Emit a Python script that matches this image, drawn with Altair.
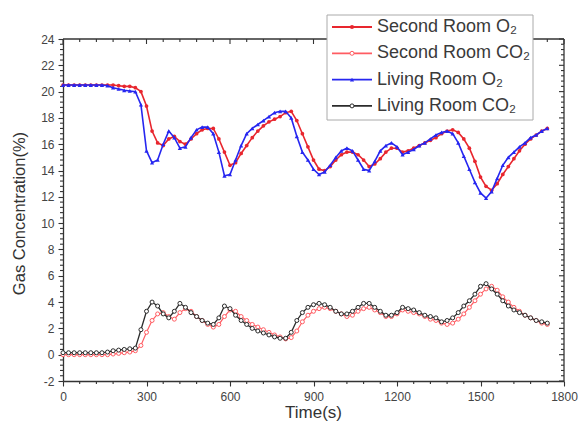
import altair as alt
import pandas as pd

time_s = list(range(0, 1760, 20))

second_o2 = [20.5, 20.5, 20.5, 20.5, 20.5, 20.5, 20.5, 20.5, 20.5, 20.5,
             20.45, 20.4, 20.4, 20.3, 20.0, 18.9, 17.0, 16.1, 15.9, 16.4,
             16.6, 16.2, 16.0, 16.4, 16.8, 17.1, 17.2, 17.2, 16.4, 15.4,
             14.4, 14.6, 15.3, 15.9, 16.5, 17.0, 17.4, 17.7, 17.9, 18.1,
             18.4, 18.5, 17.8, 16.8, 15.8, 14.8, 14.1, 14.0, 14.3, 14.8,
             15.2, 15.4, 15.4, 15.2, 14.8, 14.3, 14.5, 14.9, 15.4, 15.7,
             15.7, 15.4, 15.5, 15.7, 15.9, 16.1, 16.3, 16.5, 16.8, 17.0,
             17.1, 16.9, 16.4, 15.7, 14.7, 13.5, 12.8, 12.5, 13.0, 13.7,
             14.3, 14.9, 15.5, 16.0, 16.4, 16.7, 17.0, 17.2]

second_co2 = [0.0, 0.0, 0.0, 0.0, 0.0, 0.0, 0.0, 0.0, 0.0, 0.05,
              0.1, 0.15, 0.2, 0.3, 0.7, 1.7, 2.6, 3.1, 3.2, 2.9,
              2.7, 3.2, 3.5, 3.3, 2.9, 2.6, 2.3, 2.1, 2.3, 2.9,
              3.4, 3.3, 2.9, 2.6, 2.3, 2.1, 1.9, 1.7, 1.5, 1.35,
              1.2, 1.3, 1.8, 2.5, 3.0, 3.3, 3.5, 3.6, 3.5, 3.3,
              3.1, 2.9, 3.0, 3.3, 3.5, 3.6, 3.4, 3.2, 2.9, 2.9,
              3.1, 3.4, 3.3, 3.2, 3.1, 2.9, 2.7, 2.6, 2.4, 2.3,
              2.4, 2.7, 3.1, 3.6, 4.1, 4.6, 5.0, 5.2, 4.9, 4.4,
              4.0, 3.6, 3.3, 3.0, 2.8, 2.6, 2.4, 2.3]

living_o2 = [20.5, 20.5, 20.5, 20.5, 20.5, 20.5, 20.5, 20.5, 20.45, 20.3,
             20.2, 20.1, 20.05, 20.0, 19.0, 15.5, 14.6, 14.8, 16.0, 17.0,
             16.5, 15.7, 15.8, 16.5, 17.1, 17.3, 17.3, 16.8, 15.4, 13.6,
             13.7, 14.8, 15.9, 16.8, 17.2, 17.5, 17.8, 18.1, 18.4, 18.5,
             18.5, 18.0, 16.6, 15.4, 14.8, 14.1, 13.7, 13.9, 14.4, 15.0,
             15.5, 15.7, 15.5, 14.8, 14.1, 14.0, 14.7, 15.5, 15.9, 16.1,
             15.8, 15.2, 15.4, 15.6, 15.9, 16.1, 16.4, 16.7, 16.9, 17.0,
             16.8, 16.1, 15.1, 14.1, 13.1, 12.3, 11.9, 12.4, 13.4, 14.4,
             15.0, 15.4, 15.8, 16.1, 16.5, 16.7, 17.0, 17.2]

living_co2 = [0.15, 0.15, 0.15, 0.15, 0.15, 0.15, 0.15, 0.15, 0.2, 0.3,
              0.35, 0.4, 0.45, 0.5, 1.9, 3.3, 4.0, 3.7, 3.1, 2.8,
              3.3, 3.9, 3.6, 3.2, 2.9, 2.6, 2.4, 2.3, 2.8, 3.7,
              3.5, 3.0, 2.6, 2.3, 2.0, 1.8, 1.65, 1.5, 1.35, 1.25,
              1.25, 1.7, 2.6, 3.2, 3.6, 3.8, 3.9, 3.8, 3.6, 3.3,
              3.1, 3.1, 3.3, 3.6, 3.9, 3.9, 3.6, 3.3, 3.0, 3.0,
              3.2, 3.6, 3.5, 3.4, 3.2, 3.0, 2.9, 2.8, 2.5, 2.6,
              2.8, 3.2, 3.7, 4.1, 4.6, 5.2, 5.4, 5.0, 4.6, 4.1,
              3.7, 3.4, 3.2, 3.0, 2.8, 2.6, 2.5, 2.4]

series_names = ["Second Room O\u2082", "Second Room CO\u2082",
                "Living Room O\u2082", "Living Room CO\u2082"]
x_major = [0, 300, 600, 900, 1200, 1500, 1800]
y_major = [-2, 0, 2, 4, 6, 8, 10, 12, 14, 16, 18, 20, 22, 24]
x_minor = [60, 120, 180, 240, 360, 420, 480, 540, 660, 720, 780, 840,
           960, 1020, 1080, 1140, 1260, 1320, 1380, 1440, 1560, 1620, 1680, 1740]
y_minor = [v / 10 for v in range(-20, 241, 4) if v % 20 != 0]

W, H = 501, 342
FONT = "Liberation Sans"
AX = "#333333"

xscale = alt.Scale(domain=[0, 1800], nice=False, zero=False)
yscale = alt.Scale(domain=[-2, 24], nice=False, zero=False)

common = dict(grid=False, domainColor=AX, tickColor=AX, domainWidth=1.3, tickWidth=1.1,
              labelFont=FONT, titleFont=FONT, labelFlush=False, labelOverlap=False)

ax_x_main = alt.Axis(orient="bottom", values=x_major, tickSize=5, labelFontSize=12,
                     labelColor="#444444", labelPadding=5, title="Time(s)", titleFontSize=17,
                     titleFontWeight="normal", titleColor="#333333", titleX=250, titleY=31,
                     titleBaseline="middle", labelExpr="'' + datum.value", **common)
ax_y_main = alt.Axis(orient="left", values=y_major, tickSize=5, labelFontSize=12,
                     labelColor="#444444", labelPadding=4, title="Gas Concentration(%)",
                     titleFontSize=16.5, titleFontWeight="normal", titleColor="#333333",
                     titleX=-44, titleY=174, titleBaseline="middle", titleAlign="center",
                     labelExpr="'' + datum.value", **common)

one = alt.Data(values=[{"k": 1}])
dxmaj = pd.DataFrame({"t": x_major})
dxmin = pd.DataFrame({"t": x_minor})
dymaj = pd.DataFrame({"v": y_major})
dymin = pd.DataFrame({"v": y_minor})


def xticks(d, y_pos, size):
    return alt.Chart(d).mark_tick(orient="vertical", size=size, thickness=1.1, color=AX,
                                  opacity=1).encode(
        x=alt.X("t:Q", scale=xscale, axis=None), y=alt.value(y_pos))


def yticks(d, x_pos, size):
    return alt.Chart(d).mark_tick(orient="horizontal", size=size, thickness=1.1, color=AX,
                                  opacity=1).encode(
        y=alt.Y("v:Q", scale=yscale, axis=None), x=alt.value(x_pos))


def series_layers(vals, color, shape, size, line_w, hollow, xaxis=None, yaxis=None):
    d = pd.DataFrame({"t": time_s, "v": vals})
    base = alt.Chart(d)
    line = base.mark_line(color=color, strokeWidth=line_w).encode(
        x=alt.X("t:Q", scale=xscale, axis=xaxis),
        y=alt.Y("v:Q", scale=yscale, axis=yaxis),
    )
    if hollow:
        pm = base.mark_point(shape=shape, filled=True, fill="white", stroke=color,
                             strokeWidth=1, size=size, opacity=1)
    else:
        pm = base.mark_point(shape=shape, filled=True, color=color, size=size, opacity=1)
    pts = pm.encode(
        x=alt.X("t:Q", scale=xscale, axis=None),
        y=alt.Y("v:Q", scale=yscale, axis=None),
    )
    return [line, pts]


C_RED = "#e8262e"
C_PINK = "#ff5c62"
C_BLUE = "#2626f0"
C_BLACK = "#2b2b2b"

layers = []
# first data layer carries the main axes
layers += series_layers(second_co2, C_PINK, "circle", 16, 1.2, True, ax_x_main, ax_y_main)

# frame (top and right) and minor / mirrored tick marks
layers.append(alt.Chart(one).mark_rule(color=AX, strokeWidth=1.3).encode(
    x=alt.value(0), x2=alt.value(W), y=alt.value(0)))
layers.append(alt.Chart(one).mark_rule(color=AX, strokeWidth=1.3).encode(
    x=alt.value(W), y=alt.value(0), y2=alt.value(H)))
layers += [
    xticks(dxmin, H + 1.5, 3),
    xticks(dxmaj, 2.5, 5), xticks(dxmin, 1.5, 3),
    yticks(dymin, -1.5, 3),
    yticks(dymaj, W - 2.5, 5), yticks(dymin, W - 1.5, 3),
]

layers += series_layers(living_co2, C_BLACK, "circle", 16, 1.3, True)
layers += series_layers(second_o2, C_RED, "circle", 14, 1.6, False)
layers += series_layers(living_o2, C_BLUE, "triangle-up", 18, 1.6, False)

# legend
layers.append(alt.Chart(one).mark_rect(fill="white", stroke="#aaaaaa", strokeWidth=1).encode(
    x=alt.value(264), x2=alt.value(470), y=alt.value(-24), y2=alt.value(81)))

styles = [(C_RED, "circle", False), (C_PINK, "circle", True),
          (C_BLUE, "triangle-up", False), (C_BLACK, "circle", True)]
for i, (name, (col, shp, hollow)) in enumerate(zip(series_names, styles)):
    yy = -12 + i * 26.3
    layers.append(alt.Chart(one).mark_rule(color=col, strokeWidth=1.8).encode(
        x=alt.value(269), x2=alt.value(309), y=alt.value(yy)))
    if hollow:
        pm = alt.Chart(one).mark_point(shape=shp, filled=True, fill="white", stroke=col,
                                        strokeWidth=1, size=16, opacity=1)
    else:
        pm = alt.Chart(one).mark_point(shape=shp, filled=True, color=col, size=18, opacity=1)
    layers.append(pm.encode(x=alt.value(289), y=alt.value(yy)))
    layers.append(alt.Chart(one).mark_text(align="left", baseline="middle", fontSize=18,
                                            font=FONT, color="#3a3a3a").encode(
        x=alt.value(314), y=alt.value(yy), text=alt.value(name)))

chart = alt.layer(*layers).resolve_axis(x="independent", y="independent").properties(
    width=W, height=H,
    autosize=alt.AutoSizeParams(type="none"),
    padding={"left": 63, "top": 39, "right": 16, "bottom": 54},
    background="white",
).configure_view(strokeWidth=0)

chart.save("out.html", embed_options={"renderer": "svg", "actions": False})
